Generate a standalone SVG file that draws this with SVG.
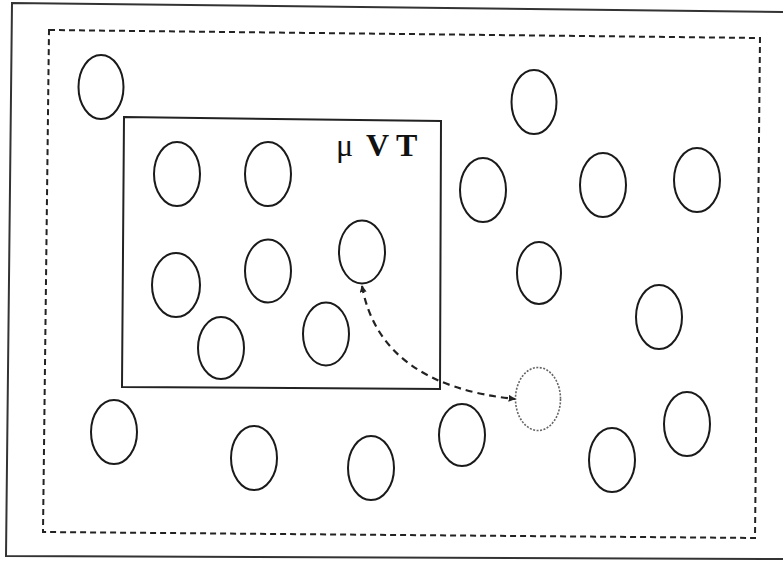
<svg xmlns="http://www.w3.org/2000/svg" width="783" height="565" viewBox="0 0 783 565">
  <style>
    .frame { fill: none; stroke: #333; stroke-width: 2; }
    .bound { fill: none; stroke: #222; stroke-width: 2; stroke-dasharray: 6 4; }
    .box { fill: none; stroke: #222; stroke-width: 2; }
    .mol { fill: none; stroke: #1a1a1a; stroke-width: 2; }
    .ghost { fill: none; stroke: #666; stroke-width: 1.6; stroke-dasharray: 2 1.5; }
    .move { fill: none; stroke: #222; stroke-width: 2.2; stroke-dasharray: 7 5; }
    .lbl { font-family: "Liberation Serif", "Times New Roman", serif; font-size: 32px; fill: #111; }
  </style>
  <defs>
    <marker id="tip" viewBox="0 0 10 10" refX="9" refY="5" markerWidth="7" markerHeight="7" orient="auto-start-reverse" markerUnits="userSpaceOnUse">
      <path d="M0,0 L10,5 L0,10 z" fill="#222"/>
    </marker>
  </defs>
  <rect x="0" y="0" width="783" height="565" fill="#fff"/>

  <!-- outer page frame -->
  <path class="frame" d="M783,12 L12,3 L6,556 L783,559"/>

  <!-- reservoir boundary -->
  <polygon id="reservoir" class="bound" points="49,30 760,38 755,538 43,532"/>

  <!-- grand canonical sub-volume -->
  <g id="subvolume">
    <polygon class="box" points="124,117 441,121 440,389 122,387"/>
    <text class="lbl" x="336" y="156">μ</text>
    <text class="lbl" x="366" y="156" font-weight="bold">V</text>
    <text class="lbl" x="396" y="156" font-weight="bold">T</text>
  </g>

  <!-- molecules -->
  <g id="m1"><ellipse class="mol" cx="101" cy="87" rx="22.5" ry="32"/></g>
  <g id="m2"><ellipse class="mol" cx="534" cy="102" rx="22.5" ry="32"/></g>
  <g id="m3"><ellipse class="mol" cx="177" cy="174" rx="23" ry="32"/></g>
  <g id="m4"><ellipse class="mol" cx="268" cy="174" rx="23" ry="32"/></g>
  <g id="m5"><ellipse class="mol" cx="483" cy="190" rx="23" ry="32"/></g>
  <g id="m6"><ellipse class="mol" cx="603" cy="185" rx="23" ry="32"/></g>
  <g id="m7"><ellipse class="mol" cx="697" cy="180" rx="23" ry="32"/></g>
  <g id="m8"><ellipse class="mol" cx="176" cy="285" rx="24" ry="32"/></g>
  <g id="m9"><ellipse class="mol" cx="268" cy="271" rx="23" ry="31.5"/></g>
  <g id="m10"><ellipse class="mol" cx="362" cy="252" rx="23" ry="31.5"/></g>
  <g id="m11"><ellipse class="mol" cx="539" cy="273" rx="22" ry="31"/></g>
  <g id="m12"><ellipse class="mol" cx="659" cy="317" rx="23" ry="32"/></g>
  <g id="m13"><ellipse class="mol" cx="221" cy="348" rx="23" ry="31"/></g>
  <g id="m14"><ellipse class="mol" cx="326" cy="334" rx="23" ry="31.5"/></g>
  <g id="m15"><ellipse class="ghost" cx="538" cy="399" rx="22.5" ry="31.5"/></g>
  <g id="m16"><ellipse class="mol" cx="114" cy="432" rx="23" ry="32"/></g>
  <g id="m17"><ellipse class="mol" cx="254" cy="458" rx="23" ry="32"/></g>
  <g id="m18"><ellipse class="mol" cx="371" cy="468" rx="23" ry="32"/></g>
  <g id="m19"><ellipse class="mol" cx="462" cy="435" rx="23" ry="31"/></g>
  <g id="m20"><ellipse class="mol" cx="612" cy="460" rx="23" ry="32"/></g>
  <g id="m21"><ellipse class="mol" cx="687" cy="424" rx="23" ry="32"/></g>

  <!-- insertion / deletion move -->
  <g id="connectors">
    <path class="move" d="M362,286 Q380,385 515,399" marker-start="url(#tip)" marker-end="url(#tip)"/>
  </g>
</svg>
